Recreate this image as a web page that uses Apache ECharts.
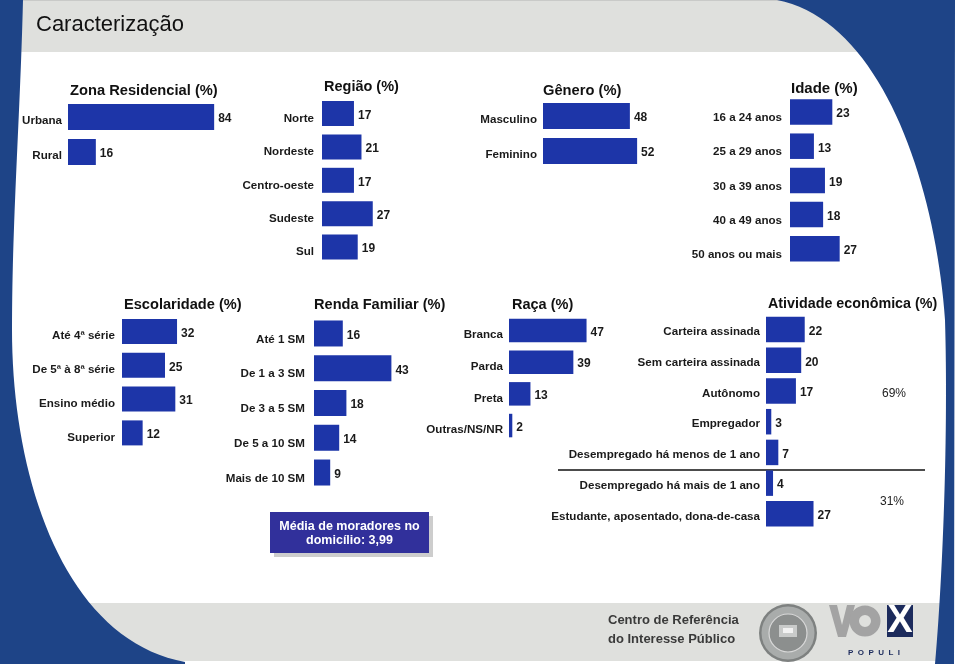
<!DOCTYPE html>
<html>
<head>
<meta charset="utf-8">
<script src="https://cdn.jsdelivr.net/npm/echarts@6/dist/echarts.min.js"></script>
<style>
html,body{margin:0;padding:0;background:#fff;}
#c{width:960px;height:664px;}
</style>
</head>
<body>
<div id="c"></div>
<script>
// ---- data ----
const zonaCats = ['Urbana', 'Rural'];
const zonaVals = [84, 16];
const regiaoCats = ['Norte', 'Nordeste', 'Centro-oeste', 'Sudeste', 'Sul'];
const regiaoVals = [17, 21, 17, 27, 19];
const generoCats = ['Masculino', 'Feminino'];
const generoVals = [48, 52];
const idadeCats = ['16 a 24 anos', '25 a 29 anos', '30 a 39 anos', '40 a 49 anos', '50 anos ou mais'];
const idadeVals = [23, 13, 19, 18, 27];
const escolCats = ['Até 4ª série', 'De 5ª à 8ª série', 'Ensino médio', 'Superior'];
const escolVals = [32, 25, 31, 12];
const rendaCats = ['Até 1 SM', 'De 1 a 3 SM', 'De 3 a 5 SM', 'De 5 a 10 SM', 'Mais de 10 SM'];
const rendaVals = [16, 43, 18, 14, 9];
const racaCats = ['Branca', 'Parda', 'Preta', 'Outras/NS/NR'];
const racaVals = [47, 39, 13, 2];
const ativCats = ['Carteira assinada', 'Sem carteira assinada', 'Autônomo', 'Empregador',
  'Desempregado há menos de 1 ano', 'Desempregado há mais de 1 ano', 'Estudante, aposentado, dona-de-casa'];
const ativVals = [22, 20, 17, 3, 7, 4, 27];
const ativGroupLabels = ['69%', '31%'];
const mediaText = ['Média de moradores no', 'domicílio: 3,99'];
const pageTitle = 'Caracterização';
const footerText = ['Centro de Referência', 'do Interesse Público'];

// ---- layout / style ----
const FONT = "'Liberation Sans', Arial, Helvetica, sans-serif";
const BAR = '#1d35a8';
const NAVY = '#1e4487';
const GRAY = '#dfe0dd';

const panels = [
  {cats: zonaCats, vals: zonaVals, left: 68, top: 99.5, max: 100, scale: 1.74, h: 70, bw: 26, dy: 4, margin: 6,
   title: 'Zona Residencial (%)', tx: 70, ty: 91, fs: 14.7},
  {cats: regiaoCats, vals: regiaoVals, left: 322, top: 96.8, max: 50, scale: 1.88, h: 167, bw: 25, dy: 5, margin: 8,
   title: 'Região (%)', tx: 324, ty: 87, fs: 14.5},
  {cats: generoCats, vals: generoVals, left: 543, top: 98.5, max: 60, scale: 1.81, h: 70, bw: 26, dy: 4, margin: 6,
   title: 'Gênero (%)', tx: 543, ty: 91, fs: 14.7},
  {cats: idadeCats, vals: idadeVals, left: 790, top: 94.9, max: 50, scale: 1.84, h: 171, bw: 25.5, dy: 6, margin: 8,
   title: 'Idade (%)', tx: 791, ty: 89, fs: 15},
  {cats: escolCats, vals: escolVals, left: 122, top: 314.6, max: 50, scale: 1.72, h: 135.2, bw: 25, dy: 4.5, margin: 7,
   title: 'Escolaridade (%)', tx: 124, ty: 305, fs: 14.6},
  {cats: rendaCats, vals: rendaVals, left: 314, top: 316.1, max: 50, scale: 1.8, h: 173.8, bw: 26, dy: 6, margin: 9,
   title: 'Renda Familiar (%)', tx: 314, ty: 305, fs: 14.6},
  {cats: racaCats, vals: racaVals, left: 509, top: 314.6, max: 50, scale: 1.65, h: 126.8, bw: 23.5, dy: 4.5, margin: 6,
   title: 'Raça (%)', tx: 512, ty: 305, fs: 14.5},
  {cats: ativCats, vals: ativVals, left: 766, top: 314.2, max: 50, scale: 1.76, h: 215, bw: 25.5, dy: 2.5, margin: 6,
   title: 'Atividade econômica (%)', tx: 768, ty: 304, fs: 14.3}
];

function cubic(p0, p1, p2, p3, n) {
  const pts = [];
  for (let i = 0; i <= n; i++) {
    const t = i / n, u = 1 - t;
    pts.push([
      u*u*u*p0[0] + 3*u*u*t*p1[0] + 3*u*t*t*p2[0] + t*t*t*p3[0],
      u*u*u*p0[1] + 3*u*u*t*p1[1] + 3*u*t*t*p2[1] + t*t*t*p3[1]
    ]);
  }
  return pts;
}

const leftShape = [[0, 0], [23, 0]]
  .concat(cubic([23, 0], [20, 120], [12, 220], [12, 330], 30))
  .concat(cubic([12, 330], [12, 480], [65, 640], [185, 662], 40))
  .concat([[185, 664], [0, 664]]);
const rightShape = [[777, 0]]
  .concat(cubic([777, 0], [880, 20], [935, 180], [945, 320], 40))
  .concat(cubic([945, 320], [948, 420], [944, 560], [935, 664], 30))
  .concat([[954, 664], [955, 0]]);

function txt(x, y, text, font, fill, align, z) {
  return {type: 'text', x: x, y: y, z: z || 3, style: {text: text, font: font, fill: fill,
    textAlign: align || 'left', textVerticalAlign: 'middle', verticalAlign: 'middle'}};
}

const grids = [], xAxes = [], yAxes = [], series = [];
const graphics = [
  {type: 'rect', shape: {x: 0, y: 0, width: 960, height: 52}, style: {fill: GRAY}, z: 0},
  {type: 'line', shape: {x1: 0, y1: 0.5, x2: 960, y2: 0.5}, style: {stroke: '#c9cac8', lineWidth: 1}, z: 0},
  {type: 'rect', shape: {x: 0, y: 603, width: 940, height: 58}, style: {fill: GRAY}, z: 0},
  {type: 'polygon', shape: {points: leftShape}, style: {fill: NAVY}, z: 1},
  {type: 'polygon', shape: {points: rightShape}, style: {fill: NAVY}, z: 1},
  {type: 'rect', shape: {x: 955, y: 0, width: 5, height: 664}, style: {fill: '#ffffff'}, z: 1},
  txt(36, 25, pageTitle, '22px ' + FONT, '#111'),
  // média box
  {type: 'rect', shape: {x: 274, y: 516, width: 159, height: 41}, style: {fill: '#cdcdcd'}, z: 3},
  {type: 'rect', shape: {x: 270, y: 512, width: 159, height: 41}, style: {fill: '#31309b'}, z: 4},
  txt(349.5, 526.5, mediaText[0], 'bold 12.5px ' + FONT, '#fff', 'center', 5),
  txt(349.5, 541, mediaText[1], 'bold 12.5px ' + FONT, '#fff', 'center', 5),
  // separator in atividade
  {type: 'line', shape: {x1: 558, y1: 470, x2: 925, y2: 470}, style: {stroke: '#111', lineWidth: 1.5}, z: 3},
  txt(894, 394, ativGroupLabels[0], '12px ' + FONT, '#222', 'center'),
  txt(892, 502, ativGroupLabels[1], '12px ' + FONT, '#222', 'center'),
  // footer
  txt(608, 620, footerText[0], 'bold 13px ' + FONT, '#3a3a3a'),
  txt(608, 639, footerText[1], 'bold 13px ' + FONT, '#3a3a3a'),
  {type: 'circle', shape: {cx: 788, cy: 633, r: 29}, style: {fill: '#7e8180'}, z: 3},
  {type: 'circle', shape: {cx: 788, cy: 633, r: 26.5}, style: {fill: '#a9acab'}, z: 3},
  {type: 'circle', shape: {cx: 788, cy: 633, r: 19}, style: {fill: '#8c8f8e', stroke: '#d8d8d8', lineWidth: 1.2}, z: 3},
  {type: 'rect', shape: {x: 779, y: 625, width: 18, height: 12}, style: {fill: '#c9cbca'}, z: 3},
  {type: 'rect', shape: {x: 783, y: 628, width: 10, height: 5}, style: {fill: '#f2f2f2'}, z: 3},
  {type: 'polygon', shape: {points: [[829, 605], [837, 605], [842, 625], [847, 605], [855, 605], [846, 637], [838, 637]]},
    style: {fill: '#a3a3a3'}, z: 3},
  {type: 'ring', shape: {cx: 865, cy: 621, r: 15.5, r0: 6}, style: {fill: '#a3a3a3'}, z: 3},
  {type: 'rect', shape: {x: 887, y: 605, width: 26, height: 32}, style: {fill: '#1c2b5c'}, z: 3},
  txt(900, 622, 'X', 'bold 38px ' + FONT, '#fff', 'center', 4),
  txt(874, 653, 'P  O  P  U  L  I', 'bold 8px ' + FONT, '#1c2b5c', 'center')
];

panels.forEach((p, i) => {
  grids.push({left: p.left, top: p.top, width: p.max * p.scale, height: p.h,
    containLabel: false, outerBoundsMode: 'none'});
  xAxes.push({type: 'value', gridIndex: i, min: 0, max: p.max, show: false});
  yAxes.push({type: 'category', gridIndex: i, inverse: true, data: p.cats,
    axisLine: {show: false}, axisTick: {show: false}, splitLine: {show: false},
    axisLabel: {margin: p.margin, color: '#1a1a1a', fontSize: 11.6, fontWeight: 'bold', fontFamily: FONT,
      verticalAlign: 'top', lineHeight: p.dy * 2}});
  series.push({type: 'bar', xAxisIndex: i, yAxisIndex: i, data: p.vals, barWidth: p.bw,
    itemStyle: {color: BAR}, z: 3,
    label: {show: true, position: 'right', distance: 4, offset: [0, 2], color: '#1a1a1a', fontSize: 12,
      fontWeight: 'bold', fontFamily: FONT}});
  graphics.push(txt(p.tx, p.ty, p.title, 'bold ' + p.fs + 'px ' + FONT, '#111'));
});

const chart = echarts.init(document.getElementById('c'), null, {renderer: 'canvas'});
chart.setOption({
  animation: false,
  backgroundColor: '#ffffff',
  grid: grids,
  xAxis: xAxes,
  yAxis: yAxes,
  series: series,
  graphic: {elements: graphics}
});
</script>
</body>
</html>
